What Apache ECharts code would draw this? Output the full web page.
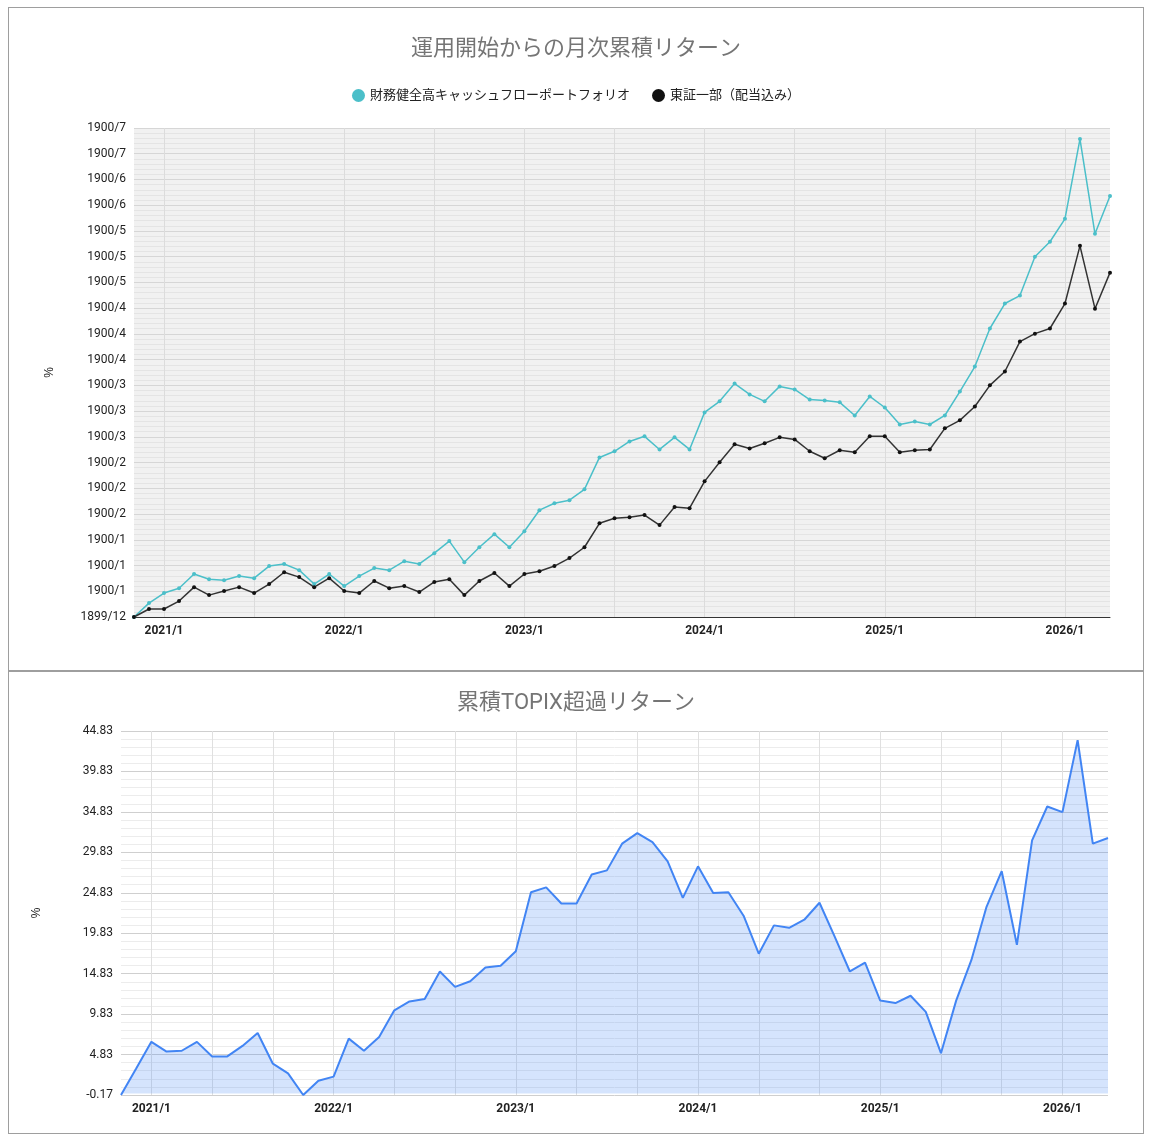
<!DOCTYPE html>
<html>
<head>
<meta charset="utf-8">
<script src="https://cdn.jsdelivr.net/npm/echarts@6/dist/echarts.min.js"></script>
<style>
body{margin:0;background:#fff;font-family:Roboto,"Noto Sans CJK JP",sans-serif;}
.box{position:absolute;left:8px;width:1134px;border:1px solid #9e9e9e;background:#fff;}
</style>
</head>
<body>
<div id="top" class="box" style="top:7px;height:662px;"></div>
<div id="bot" class="box" style="top:671px;height:461px;"></div>
<script>
// 月次ラベル 2020/11 〜 2026/4
var months = [];
for (var y = 2020, m = 11; months.length < 66; ) {
	months.push(y + '/' + m);
	m++; if (m > 12) { m = 1; y++; }
}
var portfolio = [0,5.4,9.3,11.2,16.7,14.7,14.3,15.9,15.1,19.8,20.6,18.2,12.8,16.7,12.0,15.9,19.0,18.2,21.7,20.6,24.8,29.5,21.3,27.1,32.2,27.1,33.3,41.5,44.2,45.4,49.6,62.0,64.4,68.2,70.2,65.1,69.8,65.1,79.5,83.8,90.7,86.5,83.8,89.6,88.4,84.5,84.1,83.4,78.3,85.7,81.4,74.8,76.0,74.8,78.3,87.6,97.3,112.1,121.8,124.9,140.0,145.8,154.7,185.7,148.9,163.6];
var topix = [0,3.1,3.1,6.2,11.6,8.5,10.1,11.6,9.3,12.8,17.4,15.5,11.6,15.1,10.1,9.3,14.0,11.2,12.0,9.7,13.6,14.7,8.5,14.0,17.1,12.0,16.7,17.8,19.8,22.9,27.1,36.4,38.4,38.8,39.6,35.7,42.7,42.3,52.7,60.1,67.1,65.5,67.5,69.8,69.0,64.4,61.7,64.8,64.0,70.2,70.2,64.0,64.8,65.1,73.3,76.4,81.8,90.0,95.4,107.0,110.1,112.1,121.8,144.2,119.8,133.8];
var excess = [-0.17,3.1,6.4,5.2,5.3,6.4,4.6,4.6,5.9,7.5,3.7,2.5,-0.17,1.6,2.1,6.8,5.3,7.0,10.3,11.4,11.7,15.1,13.2,13.9,15.6,15.8,17.6,24.9,25.5,23.5,23.5,27.1,27.6,30.9,32.2,31.1,28.7,24.2,28.1,24.8,24.9,22.0,17.3,20.8,20.5,21.5,23.6,19.4,15.1,16.2,11.5,11.2,12.1,10.1,5.0,11.5,16.5,23.1,27.5,18.4,31.3,35.5,34.8,43.7,30.9,31.6];
var topTicks = ['1899/12','1900/1','1900/1','1900/1','1900/2','1900/2','1900/2','1900/3','1900/3','1900/3','1900/4','1900/4','1900/4','1900/5','1900/5','1900/5','1900/6','1900/6','1900/7','1900/7'];

var font = 'Roboto,"Noto Sans CJK JP",sans-serif';
function isJan(i){ return months[i].split('/')[1] === '1'; }

var c1 = echarts.init(document.getElementById('top'));
c1.setOption({
	animation:false,
	title:{text:'運用開始からの月次累積リターン',left:'center',top:25,textStyle:{fontSize:22,fontWeight:'normal',color:'#757575',fontFamily:font}},
	legend:{top:76,left:'center',itemWidth:13,itemHeight:13,itemGap:22,icon:'circle',textStyle:{fontSize:13,color:'#222',fontFamily:font},
		data:['財務健全高キャッシュフローポートフォリオ','東証一部（配当込み）']},
	grid:{left:125,top:120,right:33,bottom:53,show:true,backgroundColor:'#f1f1f1',borderWidth:0},
	xAxis:{type:'category',data:months,boundaryGap:false,
		axisLine:{lineStyle:{color:'#333'}},axisTick:{show:false},
		axisLabel:{interval:function(i){return isJan(i);},color:'#222',fontSize:12,fontWeight:'bold',fontFamily:font},
		splitLine:{show:true,interval:function(i){var m=months[i].split('/')[1];return m==='1'||m==='7';},lineStyle:{color:'#dcdcdc'}}},
	yAxis:{type:'value',min:0,max:190,interval:10,name:'%',nameLocation:'middle',nameGap:78,nameRotate:90,nameTextStyle:{color:'#222',fontSize:12},
		axisLine:{show:false},axisTick:{show:false},
		axisLabel:{color:'#222',fontSize:12,fontFamily:font,formatter:function(v){return topTicks[Math.round(v/10)];}},
		splitLine:{lineStyle:{color:'#d6d6d6'}},
		minorSplitLine:{show:true,lineStyle:{color:'#e4e4e4'}}},
	series:[
		{name:'財務健全高キャッシュフローポートフォリオ',type:'line',data:portfolio,symbol:'circle',symbolSize:4,
			itemStyle:{color:'#4bbfc9'},lineStyle:{width:1.5,color:'#4bbfc9'}},
		{name:'東証一部（配当込み）',type:'line',data:topix,symbol:'circle',symbolSize:4,
			itemStyle:{color:'#111'},lineStyle:{width:1.5,color:'#333'}}
	]
});

var c2 = echarts.init(document.getElementById('bot'));
c2.setOption({
	animation:false,
	title:{text:'累積TOPIX超過リターン',left:'center',top:15,textStyle:{fontSize:22,fontWeight:'normal',color:'#757575',fontFamily:font}},
	grid:{left:112,top:59,right:35,bottom:38},
	xAxis:{type:'category',data:months,boundaryGap:false,
		axisLine:{show:false},axisTick:{show:false},
		axisLabel:{interval:function(i){return isJan(i);},color:'#222',fontSize:12,fontWeight:'bold',fontFamily:font},
		splitLine:{show:true,interval:function(i){return (i-2)%4===0;},lineStyle:{color:'#e0e0e0'}}},
	yAxis:{type:'value',min:-0.17,max:44.83,interval:5,name:'%',nameLocation:'middle',nameGap:78,nameRotate:90,nameTextStyle:{color:'#222',fontSize:12},
		axisLine:{show:false},axisTick:{show:false},
		axisLabel:{color:'#222',fontSize:12,fontFamily:font,formatter:function(v){return v.toFixed(2);}},
		splitLine:{lineStyle:{color:'#cfcfcf'}},
		minorSplitLine:{show:true,lineStyle:{color:'#ececec'}}},
	series:[{type:'line',data:excess,symbol:'none',lineStyle:{width:2,color:'#4285f4'},
		areaStyle:{color:'rgba(66,133,244,0.32)'}}]
});
</script>
</body>
</html>
